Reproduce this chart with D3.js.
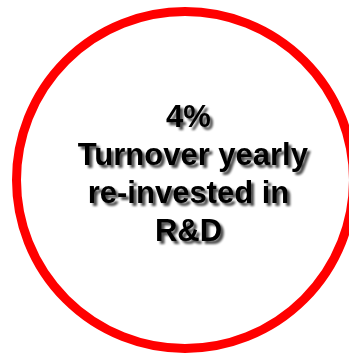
<!DOCTYPE html>
<html>
<head>
<meta charset="utf-8">
<script src="https://cdn.jsdelivr.net/npm/d3@7"></script>
<style>
  html, body { margin:0; padding:0; background:#fff; }
  svg { display:block; }
</style>
</head>
<body>
<div id="c"></div>
<script>
var W = 349
var H = 353

// values
var share = [4]
var shareUnit = ["%"]
var captionLines = [" Turnover yearly", "re-invested in", "R&D"]

var cx = 185
var cy = 180
var r = 168.5

var svg = d3.select('#c').append('svg')
  .attr('width', W)
  .attr('height', H)

// shadow for the text
var defs = svg.append('defs')
var f = defs.append('filter')
  .attr('id', 'shadow')
  .attr('x', '-10%').attr('y', '-20%')
  .attr('width', '130%').attr('height', '160%')
f.append('feGaussianBlur')
  .attr('in', 'SourceAlpha')
  .attr('stdDeviation', 1.2)
  .attr('result', 'blur')
f.append('feOffset')
  .attr('in', 'blur')
  .attr('dx', 2.5)
  .attr('dy', 2.5)
  .attr('result', 'off')
f.append('feComponentTransfer')
  .attr('in', 'off')
  .attr('result', 'soft')
  .append('feFuncA')
  .attr('type', 'linear')
  .attr('slope', 0.7)
var m = f.append('feMerge')
m.append('feMergeNode').attr('in', 'soft')
m.append('feMergeNode').attr('in', 'SourceGraphic')

// ring
svg.append('circle')
  .attr('cx', cx)
  .attr('cy', cy)
  .attr('r', r)
  .attr('fill', '#fff')
  .attr('stroke', '#ff0000')
  .attr('stroke-width', 9)

// text lines
var lines = [share[0] + shareUnit[0]].concat(captionLines)

var y = d3.scaleLinear()
  .domain([0, lines.length - 1])
  .range([127, 241])

svg.append('g')
  .attr('filter', 'url(#shadow)')
  .selectAll('text')
  .data(lines)
  .enter()
  .append('text')
  .attr('x', 188.5)
  .attr('y', function(d, i) { return y(i) })
  .attr('text-anchor', 'middle')
  .attr('xml:space', 'preserve')
  .style('white-space', 'pre')
  .attr('font-family', 'Liberation Sans, Arial, sans-serif')
  .attr('font-weight', 'bold')
  .attr('font-size', 31)
  .attr('fill', '#000')
  .text(function(d) { return d })
</script>
</body>
</html>
